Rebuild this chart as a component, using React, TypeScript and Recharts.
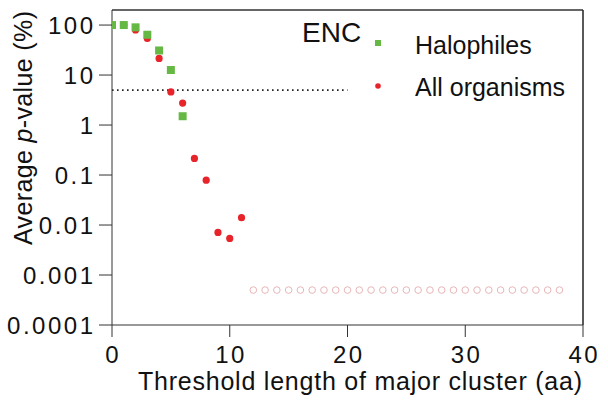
import React from "react";
import { ScatterChart, Scatter, XAxis, YAxis, ReferenceLine } from "recharts";

const xTicks = [0, 10, 20, 30, 40];
const yTicks = [0.0001, 0.001, 0.01, 0.1, 1, 10, 100];

const halophilesX = [0, 1, 2, 3, 4, 5, 6];
const halophilesY = [100, 100, 90, 64, 31, 12.6, 1.5];

const allX = [0, 1, 2, 3, 4, 5, 6, 7, 8, 9, 10, 11];
const allY = [100, 100, 80, 54, 21.5, 4.6, 2.75, 0.215, 0.079, 0.0071, 0.0054, 0.014];

const zeroX = [12, 13, 14, 15, 16, 17, 18, 19, 20, 21, 22, 23, 24, 25, 26, 27, 28, 29, 30, 31, 32, 33, 34, 35, 36, 37, 38];
const zeroY = [0.0005, 0.0005, 0.0005, 0.0005, 0.0005, 0.0005, 0.0005, 0.0005, 0.0005, 0.0005, 0.0005, 0.0005, 0.0005, 0.0005, 0.0005, 0.0005, 0.0005, 0.0005, 0.0005, 0.0005, 0.0005, 0.0005, 0.0005, 0.0005, 0.0005, 0.0005, 0.0005];

const thresholdX = [0, 20];
const thresholdY = 5;

const halophiles = halophilesX.map((x, i) => ({ x, y: halophilesY[i] }));
const allOrganisms = allX.map((x, i) => ({ x, y: allY[i] }));
const zeros = zeroX.map((x, i) => ({ x, y: zeroY[i] }));

const FONT = "Arial, 'Liberation Sans', sans-serif";
const GREEN = "#66b845";
const RED = "#e8242b";
const PINK = "#e8b6b9";

const SquareShape = (props: any) => (
  <rect x={props.cx - 4} y={props.cy - 4} width={8} height={8} fill={GREEN} />
);
const DotShape = (props: any) => <circle cx={props.cx} cy={props.cy} r={3.6} fill={RED} />;
const OpenShape = (props: any) => (
  <circle cx={props.cx} cy={props.cy} r={3.3} fill="#fff" stroke={PINK} strokeWidth={1} />
);

const TICK_LS = 2.5;
const TICK_FS = 24;

const XTick = (props: any) => (
  <text
    x={props.x + TICK_LS / 2}
    y={props.y}
    dy="0.71em"
    textAnchor="middle"
    fontFamily={FONT}
    fontSize={TICK_FS}
    letterSpacing={TICK_LS}
    fill="#111"
  >
    {props.payload.value}
  </text>
);

const fmt = (v: number) => String(v);

const YTick = (props: any) => (
  <text
    x={props.x + TICK_LS}
    y={props.y}
    dy="0.355em"
    textAnchor="end"
    fontFamily={FONT}
    fontSize={TICK_FS}
    letterSpacing={TICK_LS}
    fill="#111"
  >
    {fmt(props.payload.value)}
  </text>
);

export default function App() {
  return (
    <div style={{ position: "absolute", left: 0, top: 0, width: 608, height: 402, background: "#fff" }}>
      <ScatterChart width={608} height={402} margin={{ top: 10, right: 25, left: 0, bottom: 0 }}>
        <XAxis
          type="number"
          dataKey="x"
          domain={[0, 40]}
          ticks={xTicks}
          tickSize={12}
          tickMargin={9}
          height={77}
          stroke="#333"
          tick={<XTick />}
          allowDataOverflow
        />
        <YAxis
          type="number"
          dataKey="y"
          scale="log"
          domain={[0.0001, 200]}
          ticks={yTicks}
          tickSize={13}
          tickMargin={6}
          width={112}
          stroke="#333"
          tick={<YTick />}
          allowDataOverflow
        />
        <ReferenceLine y={200} stroke="#333" strokeWidth={1.5} ifOverflow="visible" />
        <ReferenceLine x={40} stroke="#222" strokeWidth={1.5} ifOverflow="visible" />
        <ReferenceLine
          segment={[
            { x: thresholdX[0], y: thresholdY },
            { x: thresholdX[1], y: thresholdY },
          ]}
          stroke="#222"
          strokeWidth={1.6}
          strokeDasharray="1.6 3.4"
          ifOverflow="visible"
        />
        <Scatter data={zeros} shape={<OpenShape />} isAnimationActive={false} />
        <Scatter data={allOrganisms} shape={<DotShape />} isAnimationActive={false} />
        <Scatter data={halophiles} shape={<SquareShape />} isAnimationActive={false} />
      </ScatterChart>
      <svg
        width={608}
        height={402}
        style={{ position: "absolute", left: 0, top: 0, pointerEvents: "none" }}
      >
        <text
          x={360}
          y={390}
          textAnchor="middle"
          fontFamily={FONT}
          fontSize={25}
          textLength={444}
          lengthAdjust="spacing"
          fill="#111"
        >
          Threshold length of major cluster (aa)
        </text>
        <text
          transform="translate(32,128) rotate(-90)"
          textAnchor="middle"
          fontFamily={FONT}
          fontSize={25}
          textLength={234}
          lengthAdjust="spacing"
          fill="#111"
        >
          Average <tspan fontStyle="italic">p</tspan>-value (%)
        </text>
        <text x={302} y={42} fontFamily={FONT} fontSize={28} fill="#111">
          ENC
        </text>
        <rect x={375} y={40} width={6} height={6} fill={GREEN} />
        <text x={415} y={54} fontFamily={FONT} fontSize={25} fill="#111">
          Halophiles
        </text>
        <circle cx={378} cy={86} r={2.8} fill={RED} />
        <text x={415} y={96} fontFamily={FONT} fontSize={25} fill="#111">
          All organisms
        </text>
      </svg>
    </div>
  );
}
